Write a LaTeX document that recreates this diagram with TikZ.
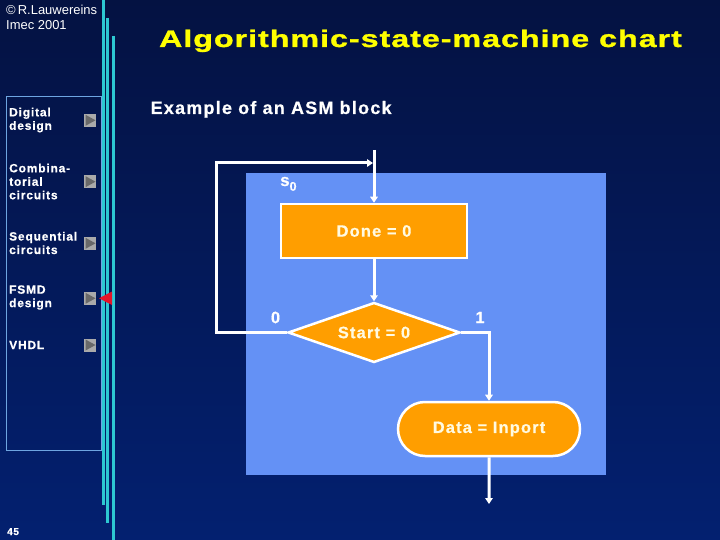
\documentclass[tikz,border=0pt]{standalone}
\usepackage{fontspec}
\setmainfont{Liberation Sans}
\newfontfamily\titlefont[FakeStretch=1.35,LetterSpace=4,FakeBold=1.2]{Liberation Sans}
\newfontfamily\spacedfont[LetterSpace=7,FakeBold=0.6]{Liberation Sans}
\usepackage{xcolor}
\usetikzlibrary{arrows.meta, positioning, shapes.geometric, shapes.misc}
\definecolor{bgtop}{RGB}{4,18,66}
\definecolor{bgbot}{RGB}{3,32,112}
\definecolor{barcyan}{RGB}{45,200,210}
\definecolor{framecol}{RGB}{110,165,225}
\definecolor{panelblue}{RGB}{100,145,245}
\definecolor{asmorange}{RGB}{255,158,0}
\definecolor{textcream}{RGB}{255,250,225}
\definecolor{titleyellow}{RGB}{255,255,0}
\definecolor{iconlight}{RGB}{170,170,170}
\definecolor{icondark}{RGB}{105,105,105}
\definecolor{markred}{RGB}{230,20,40}

\begin{document}
\begin{tikzpicture}[x=1bp, y=-1bp,
    node distance=42bp,
    menu/.style={anchor=west, align=left, text=white, inner sep=0pt,
                 font=\spacedfont\bfseries\fontsize{12}{13.5}\selectfont},
    state/.style={draw=white, line width=2.5bp, fill=asmorange, text=textcream,
                  minimum width=186bp, minimum height=54bp, inner sep=2bp,
                  font=\spacedfont\bfseries\fontsize{16.5}{20}\selectfont},
    cond/.style={state, diamond, aspect=2.87, minimum width=172bp, minimum height=60bp},
    outp/.style={state, rounded rectangle},
    lbl/.style={text=white, inner sep=0pt,
                font=\spacedfont\bfseries\fontsize{16.5}{18}\selectfont},
    arr/.style={-{Triangle[length=6bp,width=7.5bp]}, line width=3bp, white}
]
\useasboundingbox (0,0) rectangle (720,540);
\fill[top color=bgtop, bottom color=bgbot] (0,0) rectangle (720,540);

% side bars and menu frame
\draw[barcyan, line width=3bp] (103,0) -- (103,505);
\draw[barcyan, line width=3bp] (107.5,18) -- (107.5,523);
\draw[barcyan, line width=3bp] (113.5,36) -- (113.5,540);
\draw[framecol, line width=1bp] (6.5,96.5) rectangle (101.5,450.5);

\node[anchor=base west, inner sep=0pt, text=white, font=\fontsize{13}{14}\selectfont]
  (copy) at (6,15) {\textcopyright\,R.Lauwereins};
\node[anchor=base west, inner sep=0pt, text=white, font=\fontsize{13}{14}\selectfont]
  (imec) at (6,29.5) {Imec 2001};

\node[menu] (mdig) at (9,120) {Digital\\design};
\node[menu] (mcomb) at (9,181.5) {Combina-\\torial\\circuits};
\node[menu] (mseq) at (9,243) {Sequential\\circuits};
\node[menu] (mfsmd) at (9,297.5) {FSMD\\design};
\node[menu] (mvhdl) at (9,345) {VHDL};
\foreach \y in {120.3,181.7,243.3,298.3,345} {
  \fill[iconlight] (84,\y-6.5) rectangle (96,\y+6.5);
  \fill[icondark] (85.5,\y-5.5) -- (95.5,\y) -- (85.5,\y+5.5) -- cycle;
}
\fill[markred] (99,298.3) -- (112,291.5) -- (112,305) -- cycle;

\node[anchor=base west, inner sep=0pt, text=white, font=\spacedfont\bfseries\fontsize{10}{10}\selectfont]
  (pageno) at (7,535) {45};

% title
\node[anchor=base, inner sep=0pt, text=titleyellow,
      font=\titlefont\bfseries\fontsize{24}{28}\selectfont]
  (title) at (420.5,47) {Algorithmic-state-machine chart};
\node[anchor=base west, inner sep=0pt, text=white,
      font=\spacedfont\bfseries\fontsize{18}{20}\selectfont]
  (sub) at (150.5,114) {Example of an ASM block};

% ASM block
\fill[panelblue] (246,173.5) rectangle (606,474.5);

\node[state] (done) at (374,231) {Done = 0};
\node[cond, below=42bp of done] (start) {Start = 0};
\node[outp] (data) at (489,429) {Data = Inport};

\coordinate (entry) at (374,150);
\coordinate (loopc) at (216,163);
\coordinate (join) at (374,163);
\coordinate (exit) at (489,504);

\node[lbl, anchor=base west] (sname) at (280,186)
  {\fontsize{17}{18}\selectfont s\raisebox{-4.7bp}{\fontsize{12.5}{13}\selectfont 0}};
\node[lbl] (lzero) at (275.5,317.5) {0};
\node[lbl] (lone) at (480,317.5) {1};

\draw[arr] (entry) -- (done);
\draw[arr, shorten >=1bp] (start.west) -| (loopc) -- (join);
\draw[arr] (done) -- (start);
\draw[arr] (start.east) -| (data);
\draw[arr] (data) -- (exit);
\end{tikzpicture}
\end{document}
